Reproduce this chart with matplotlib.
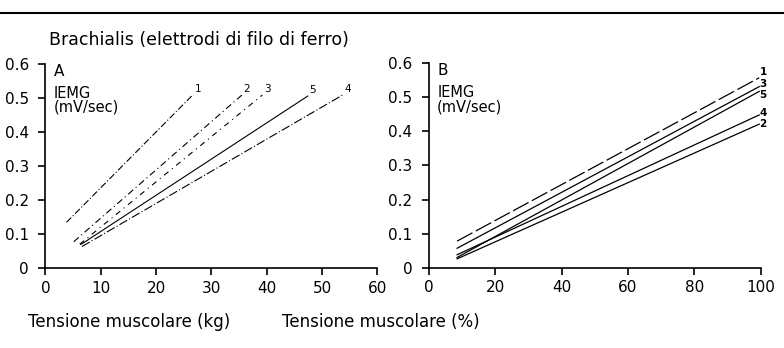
import matplotlib.pyplot as plt
from matplotlib.lines import Line2D

plt.rcParams['font.family'] = ['DejaVu Sans']

# Panel A: tension in kg (start / end of each regression line)
a_labels = ['1', '2', '3', '5', '4']
a_x0 = [3.8, 5.1, 6.2, 6.4, 6.6]
a_y0 = [0.135, 0.078, 0.071, 0.070, 0.064]
a_x1 = [26.6, 35.5, 39.2, 47.4, 53.7]
a_y1 = [0.509, 0.509, 0.509, 0.506, 0.509]
a_styles = [(0, (6, 2, 1, 2)), (0, (6, 3, 1, 3)), (0, (5, 4, 1, 4)), '-', (0, (8, 2, 1, 2))]

# Panel B: tension in % of max
b_labels = ['1', '3', '5', '4', '2']
b_x0 = [8.5, 8.5, 8.5, 8.5, 8.5]
b_y0 = [0.078, 0.057, 0.030, 0.038, 0.026]
b_x1 = [99.5, 99.5, 99.5, 99.5, 99.5]
b_y1 = [0.557, 0.531, 0.517, 0.448, 0.421]
b_lab_y = [0.573, 0.540, 0.507, 0.455, 0.420]
b_styles = [(0, (14, 3)), '-', '-', '-', '-']

yticks = [0, 0.1, 0.2, 0.3, 0.4, 0.5, 0.6]
ytick_labels = ['0', '0.1', '0.2', '0.3', '0.4', '0.5', '0.6']
a_xticks = [0, 10, 20, 30, 40, 50, 60]
b_xticks = [0, 20, 40, 60, 80, 100]

fig = plt.figure(figsize=(7.84, 3.48), dpi=100)
axA = fig.add_axes([0.058, 0.229, 0.4235, 0.587])
axB = fig.add_axes([0.547, 0.2307, 0.4235, 0.588])

for ax in (axA, axB):
    for s in ('top', 'right'):
        ax.spines[s].set_visible(False)
    for s in ('left', 'bottom'):
        ax.spines[s].set_linewidth(1.2)
    ax.set_ylim(0, 0.6)
    ax.set_yticks(yticks)
    ax.set_yticklabels(ytick_labels)
    ax.tick_params(direction='out', length=5, width=1.2, labelsize=11)
    ax.tick_params(axis='y', pad=7)
    ax.tick_params(axis='x', pad=4)

axA.set_xlim(0, 60)
axA.set_xticks(a_xticks)
axB.set_xlim(0, 100)
axB.set_xticks(b_xticks)

for i in range(len(a_labels)):
    axA.plot([a_x0[i], a_x1[i]], [a_y0[i], a_y1[i]], color='black', lw=0.8,
             linestyle=a_styles[i])
    axA.text(a_x1[i] + 0.3, a_y1[i] + 0.003, a_labels[i], fontsize=7.5,
             ha='left', va='bottom')

for i in range(len(b_labels)):
    axB.plot([b_x0[i], b_x1[i]], [b_y0[i], b_y1[i]], color='black', lw=0.9,
             linestyle=b_styles[i])
    axB.text(99.6, b_lab_y[i], b_labels[i], fontsize=7.5, fontweight='bold',
             ha='left', va='center')

axA.text(1.5, 0.6, 'A', fontsize=11, va='top')
axA.text(1.5, 0.535, 'IEMG\n(mV/sec)', fontsize=10.5, va='top', linespacing=0.9)
axB.text(2.5, 0.6, 'B', fontsize=11, va='top')
axB.text(2.5, 0.535, 'IEMG\n(mV/sec)', fontsize=10.5, va='top', linespacing=0.9)

fig.text(0.062, 0.872, 'Brachialis (elettrodi di filo di ferro)', fontsize=12.5)
fig.text(0.036, 0.06, 'Tensione muscolare (kg)', fontsize=12)
fig.text(0.36, 0.06, 'Tensione muscolare (%)', fontsize=12)

# rule across the top of the page
fig.add_artist(Line2D([0, 1], [0.962, 0.962], color='black', lw=1.5))

fig.savefig('out.png', dpi=100)
